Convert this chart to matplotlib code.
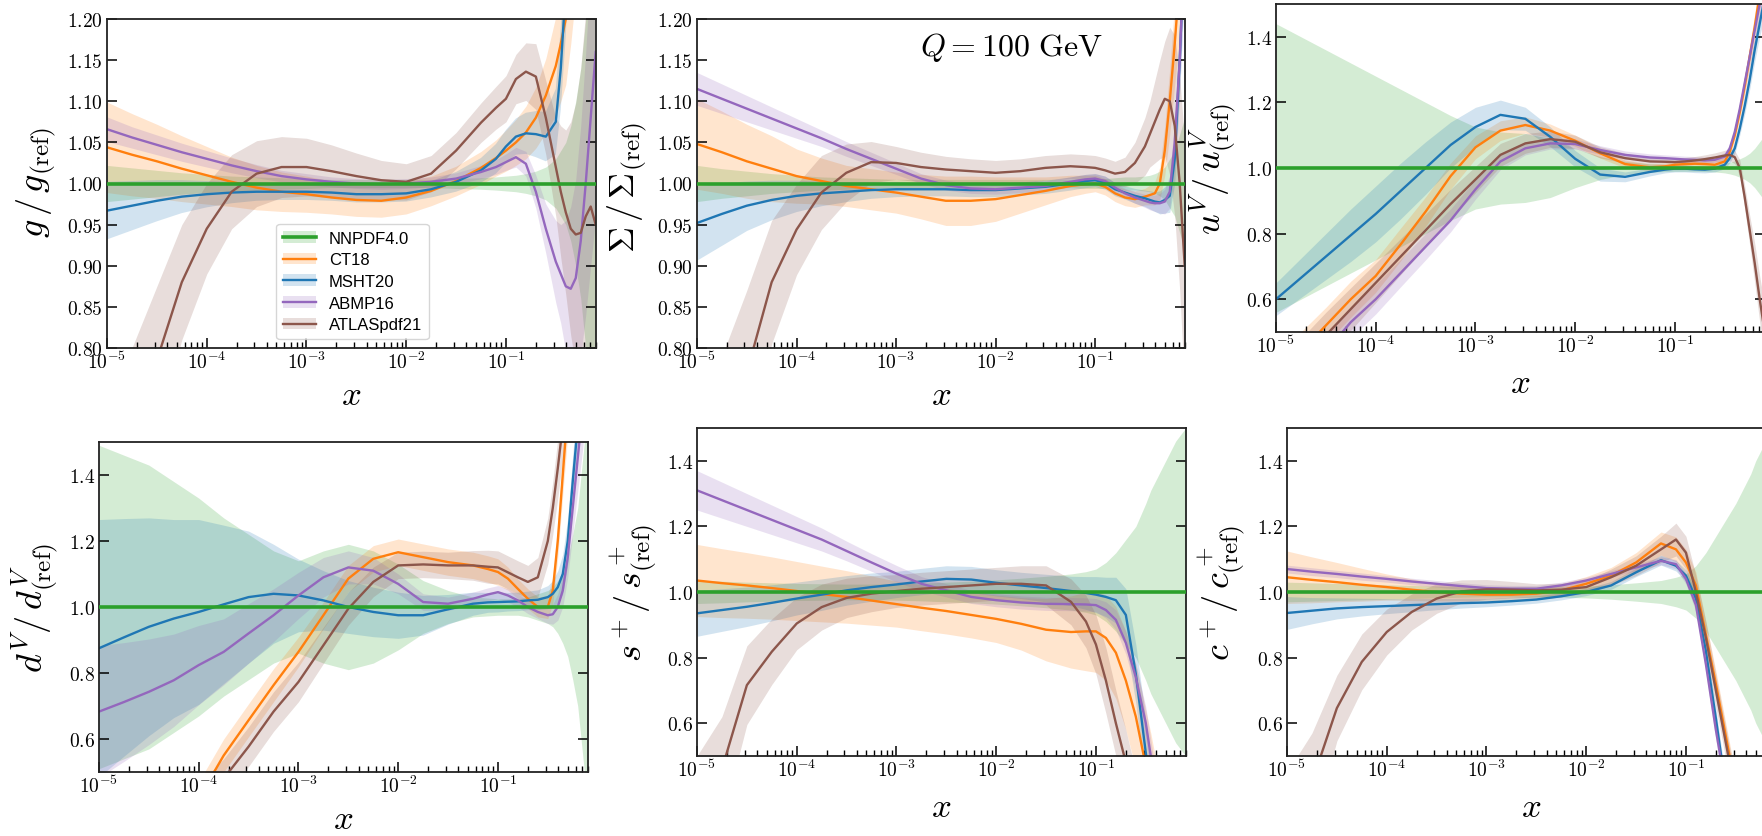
import numpy as np
import matplotlib
matplotlib.use("Agg")
import matplotlib.pyplot as plt
from matplotlib.ticker import FixedLocator, FixedFormatter, LogLocator, NullFormatter, NullLocator
from matplotlib.patches import Patch
from matplotlib.lines import Line2D

# ---------------- data ----------------
LOG10_X = [-5.0, -4.75, -4.5, -4.25, -4.0, -3.75, -3.5, -3.25, -3.0, -2.75, -2.5, -2.25,
           -2.0, -1.75, -1.5, -1.25, -1.1, -1.0, -0.9, -0.8, -0.7, -0.6, -0.5, -0.45,
           -0.4, -0.35, -0.3, -0.25, -0.2, -0.15, -0.1]

PDF_NAMES = ["NNPDF4.0", "CT18", "MSHT20", "ABMP16", "ATLASpdf21"]
NNPDF_RATIO = 1.0

# gluon
g_nnpdf_err = [0.022, 0.019, 0.016, 0.013, 0.011, 0.009, 0.008, 0.007, 0.006, 0.005, 0.005, 0.005, 0.005, 0.005, 0.006, 0.007, 0.008, 0.009, 0.010, 0.012, 0.015, 0.020, 0.030, 0.040, 0.050, 0.070, 0.100, 0.140, 0.200, 0.260, 0.320]
g_ct18 = [1.044, 1.035, 1.027, 1.018, 1.010, 1.002, 0.995, 0.990, 0.987, 0.983, 0.980, 0.979, 0.983, 0.991, 1.003, 1.019, 1.031, 1.040, 1.050, 1.062, 1.080, 1.107, 1.143, 1.170, 1.200, 1.260, 1.330, 1.420, 1.520, 1.640, 1.780]
g_ct18_err = [0.055, 0.050, 0.045, 0.040, 0.035, 0.030, 0.027, 0.024, 0.022, 0.020, 0.020, 0.020, 0.020, 0.018, 0.018, 0.020, 0.022, 0.025, 0.028, 0.032, 0.037, 0.045, 0.060, 0.070, 0.080, 0.090, 0.100, 0.120, 0.140, 0.160, 0.180]
g_msht = [0.967, 0.973, 0.979, 0.984, 0.987, 0.989, 0.990, 0.990, 0.990, 0.989, 0.987, 0.987, 0.988, 0.993, 1.002, 1.016, 1.030, 1.045, 1.057, 1.061, 1.060, 1.057, 1.075, 1.140, 1.240, 1.380, 1.500, 1.650, 1.800, 1.950, 2.100]
g_msht_err = [0.035, 0.030, 0.025, 0.020, 0.016, 0.013, 0.011, 0.010, 0.010, 0.010, 0.010, 0.010, 0.010, 0.010, 0.012, 0.015, 0.018, 0.020, 0.022, 0.025, 0.028, 0.030, 0.040, 0.050, 0.060, 0.080, 0.100, 0.120, 0.140, 0.160, 0.180]
g_abmp = [1.066, 1.056, 1.047, 1.038, 1.030, 1.022, 1.015, 1.009, 1.005, 1.002, 1.000, 0.999, 1.000, 1.002, 1.006, 1.014, 1.020, 1.026, 1.032, 1.024, 0.990, 0.945, 0.905, 0.890, 0.875, 0.872, 0.885, 0.930, 1.000, 1.080, 1.160]
g_abmp_err = [0.015, 0.013, 0.012, 0.011, 0.010, 0.009, 0.008, 0.007, 0.007, 0.006, 0.006, 0.006, 0.006, 0.006, 0.007, 0.008, 0.009, 0.010, 0.012, 0.015, 0.020, 0.030, 0.050, 0.060, 0.080, 0.100, 0.120, 0.140, 0.160, 0.180, 0.200]
g_atlas = [0.520, 0.660, 0.785, 0.880, 0.945, 0.990, 1.012, 1.020, 1.020, 1.015, 1.009, 1.004, 1.002, 1.012, 1.040, 1.074, 1.092, 1.103, 1.127, 1.136, 1.130, 1.080, 1.020, 0.990, 0.965, 0.945, 0.938, 0.940, 0.960, 0.972, 0.950]
g_atlas_err = [0.180, 0.140, 0.090, 0.070, 0.055, 0.045, 0.040, 0.037, 0.035, 0.032, 0.028, 0.024, 0.022, 0.022, 0.022, 0.024, 0.026, 0.028, 0.030, 0.035, 0.040, 0.045, 0.060, 0.080, 0.100, 0.130, 0.160, 0.200, 0.250, 0.300, 0.350]

# singlet
S_nnpdf_err = [0.022, 0.018, 0.015, 0.012, 0.010, 0.008, 0.007, 0.006, 0.005, 0.005, 0.005, 0.005, 0.005, 0.005, 0.005, 0.005, 0.006, 0.006, 0.006, 0.007, 0.008, 0.008, 0.009, 0.010, 0.012, 0.015, 0.020, 0.030, 0.040, 0.060, 0.080]
S_ct18 = [1.048, 1.038, 1.027, 1.018, 1.009, 1.003, 0.997, 0.993, 0.989, 0.984, 0.979, 0.979, 0.981, 0.986, 0.991, 0.997, 0.999, 1.000, 0.996, 0.988, 0.983, 0.981, 0.984, 0.986, 0.988, 1.000, 1.040, 1.100, 1.170, 1.250, 1.350]
S_ct18_err = [0.055, 0.050, 0.045, 0.040, 0.033, 0.028, 0.025, 0.025, 0.025, 0.027, 0.030, 0.030, 0.027, 0.022, 0.017, 0.013, 0.011, 0.010, 0.010, 0.010, 0.010, 0.010, 0.010, 0.012, 0.014, 0.020, 0.030, 0.040, 0.050, 0.070, 0.090]
S_msht = [0.952, 0.963, 0.973, 0.980, 0.985, 0.988, 0.990, 0.992, 0.993, 0.993, 0.993, 0.992, 0.992, 0.994, 0.996, 1.000, 1.003, 1.004, 1.001, 0.993, 0.989, 0.985, 0.982, 0.980, 0.978, 0.977, 0.980, 0.985, 1.030, 1.150, 1.300]
S_msht_err = [0.045, 0.038, 0.030, 0.024, 0.019, 0.015, 0.012, 0.010, 0.009, 0.008, 0.008, 0.008, 0.008, 0.008, 0.008, 0.008, 0.008, 0.008, 0.008, 0.008, 0.008, 0.009, 0.010, 0.011, 0.012, 0.014, 0.016, 0.020, 0.030, 0.040, 0.050]
S_abmp = [1.115, 1.103, 1.091, 1.079, 1.067, 1.055, 1.042, 1.030, 1.018, 1.006, 0.998, 0.994, 0.993, 0.995, 0.997, 1.002, 1.005, 1.006, 1.003, 0.995, 0.988, 0.983, 0.979, 0.977, 0.976, 0.976, 0.978, 0.990, 1.050, 1.150, 1.300]
S_abmp_err = [0.020, 0.018, 0.016, 0.014, 0.012, 0.010, 0.009, 0.008, 0.007, 0.006, 0.006, 0.006, 0.006, 0.006, 0.006, 0.006, 0.006, 0.006, 0.006, 0.006, 0.006, 0.007, 0.008, 0.009, 0.010, 0.012, 0.015, 0.020, 0.030, 0.040, 0.050]
S_atlas = [0.500, 0.640, 0.770, 0.880, 0.944, 0.989, 1.013, 1.026, 1.025, 1.020, 1.017, 1.015, 1.013, 1.015, 1.019, 1.021, 1.020, 1.019, 1.016, 1.012, 1.014, 1.025, 1.045, 1.060, 1.075, 1.090, 1.103, 1.100, 1.070, 1.000, 0.900]
S_atlas_err = [0.200, 0.150, 0.100, 0.075, 0.055, 0.045, 0.035, 0.025, 0.020, 0.018, 0.016, 0.015, 0.015, 0.015, 0.015, 0.015, 0.015, 0.015, 0.015, 0.015, 0.018, 0.025, 0.035, 0.040, 0.050, 0.060, 0.070, 0.090, 0.110, 0.130, 0.150]

# u valence
uv_nnpdf_err = [0.440, 0.400, 0.360, 0.320, 0.280, 0.240, 0.200, 0.160, 0.125, 0.110, 0.105, 0.090, 0.060, 0.035, 0.020, 0.013, 0.011, 0.010, 0.010, 0.010, 0.011, 0.012, 0.015, 0.018, 0.022, 0.028, 0.035, 0.045, 0.060, 0.080, 0.100]
uv_ct18 = [0.360, 0.440, 0.520, 0.600, 0.671, 0.767, 0.867, 0.975, 1.063, 1.114, 1.131, 1.114, 1.083, 1.045, 1.012, 1.002, 1.005, 1.010, 1.012, 1.013, 1.012, 1.010, 1.020, 1.050, 1.100, 1.170, 1.250, 1.340, 1.430, 1.530, 1.630]
uv_ct18_err = [0.060, 0.060, 0.055, 0.055, 0.050, 0.050, 0.045, 0.040, 0.035, 0.030, 0.025, 0.020, 0.017, 0.015, 0.012, 0.010, 0.010, 0.010, 0.010, 0.010, 0.010, 0.012, 0.015, 0.018, 0.020, 0.025, 0.030, 0.035, 0.040, 0.050, 0.060]
uv_msht = [0.600, 0.665, 0.730, 0.795, 0.860, 0.930, 1.000, 1.070, 1.125, 1.162, 1.150, 1.095, 1.028, 0.980, 0.973, 0.988, 0.995, 0.998, 0.998, 0.996, 0.995, 0.998, 1.010, 1.030, 1.060, 1.120, 1.190, 1.270, 1.360, 1.440, 1.520]
uv_msht_err = [0.050, 0.060, 0.070, 0.080, 0.085, 0.085, 0.080, 0.070, 0.060, 0.045, 0.035, 0.030, 0.025, 0.020, 0.015, 0.012, 0.010, 0.010, 0.010, 0.010, 0.010, 0.010, 0.012, 0.014, 0.016, 0.020, 0.025, 0.030, 0.035, 0.040, 0.050]
uv_abmp = [0.300, 0.370, 0.440, 0.530, 0.600, 0.680, 0.760, 0.840, 0.935, 1.020, 1.060, 1.075, 1.073, 1.055, 1.040, 1.032, 1.030, 1.028, 1.026, 1.025, 1.023, 1.025, 1.035, 1.060, 1.110, 1.180, 1.260, 1.340, 1.420, 1.500, 1.580]
uv_abmp_err = [0.050, 0.050, 0.050, 0.048, 0.045, 0.042, 0.040, 0.035, 0.030, 0.025, 0.020, 0.017, 0.015, 0.013, 0.012, 0.011, 0.010, 0.010, 0.010, 0.010, 0.010, 0.010, 0.012, 0.014, 0.016, 0.020, 0.025, 0.030, 0.035, 0.040, 0.050]
uv_atlas = [0.330, 0.410, 0.490, 0.570, 0.650, 0.730, 0.810, 0.890, 0.965, 1.040, 1.075, 1.088, 1.080, 1.048, 1.030, 1.020, 1.019, 1.018, 1.020, 1.023, 1.027, 1.032, 1.038, 1.040, 1.033, 1.000, 0.910, 0.810, 0.710, 0.600, 0.500]
uv_atlas_err = [0.070, 0.070, 0.070, 0.065, 0.060, 0.055, 0.050, 0.045, 0.040, 0.035, 0.030, 0.025, 0.020, 0.017, 0.015, 0.013, 0.012, 0.012, 0.012, 0.012, 0.013, 0.014, 0.016, 0.018, 0.020, 0.025, 0.035, 0.045, 0.060, 0.070, 0.080]

# d valence
dv_nnpdf_err = [0.490, 0.460, 0.430, 0.380, 0.330, 0.270, 0.220, 0.170, 0.140, 0.170, 0.190, 0.170, 0.130, 0.080, 0.050, 0.030, 0.027, 0.025, 0.025, 0.025, 0.030, 0.040, 0.050, 0.060, 0.080, 0.110, 0.150, 0.220, 0.300, 0.450, 0.600]
dv_ct18 = [0.140, 0.200, 0.260, 0.340, 0.420, 0.550, 0.657, 0.763, 0.864, 0.975, 1.086, 1.146, 1.166, 1.151, 1.136, 1.126, 1.115, 1.106, 1.086, 1.055, 1.025, 1.000, 1.000, 1.050, 1.200, 1.400, 1.600, 1.800, 2.000, 2.200, 2.400]
dv_ct18_err = [0.050, 0.050, 0.050, 0.050, 0.050, 0.050, 0.050, 0.050, 0.045, 0.040, 0.040, 0.040, 0.040, 0.040, 0.040, 0.040, 0.040, 0.040, 0.035, 0.030, 0.030, 0.030, 0.035, 0.040, 0.050, 0.060, 0.080, 0.100, 0.120, 0.140, 0.160]
dv_msht = [0.875, 0.908, 0.940, 0.965, 0.985, 1.008, 1.030, 1.040, 1.035, 1.020, 1.000, 0.985, 0.975, 0.975, 0.993, 1.010, 1.014, 1.015, 1.016, 1.017, 1.020, 1.022, 1.030, 1.040, 1.060, 1.100, 1.200, 1.380, 1.550, 1.700, 1.850]
dv_msht_err = [0.390, 0.360, 0.330, 0.300, 0.280, 0.240, 0.200, 0.150, 0.110, 0.090, 0.080, 0.075, 0.070, 0.060, 0.045, 0.035, 0.030, 0.030, 0.028, 0.028, 0.028, 0.030, 0.035, 0.040, 0.050, 0.060, 0.070, 0.080, 0.100, 0.120, 0.140]
dv_abmp = [0.683, 0.712, 0.743, 0.778, 0.824, 0.864, 0.920, 0.975, 1.035, 1.090, 1.120, 1.110, 1.070, 1.015, 1.010, 1.025, 1.038, 1.045, 1.035, 1.020, 1.000, 0.985, 0.975, 0.978, 1.000, 1.050, 1.150, 1.300, 1.450, 1.600, 1.800]
dv_abmp_err = [0.200, 0.180, 0.160, 0.140, 0.120, 0.100, 0.090, 0.080, 0.070, 0.060, 0.050, 0.040, 0.030, 0.025, 0.020, 0.020, 0.020, 0.020, 0.020, 0.020, 0.020, 0.020, 0.025, 0.030, 0.040, 0.050, 0.060, 0.080, 0.100, 0.120, 0.140]
dv_atlas = [0.100, 0.170, 0.240, 0.320, 0.400, 0.480, 0.577, 0.683, 0.773, 0.884, 0.995, 1.076, 1.126, 1.129, 1.126, 1.126, 1.122, 1.120, 1.105, 1.090, 1.076, 1.090, 1.200, 1.300, 1.420, 1.550, 1.700, 1.850, 2.000, 2.150, 2.300]
dv_atlas_err = [0.060, 0.060, 0.060, 0.060, 0.060, 0.060, 0.060, 0.060, 0.060, 0.055, 0.050, 0.045, 0.040, 0.040, 0.040, 0.045, 0.050, 0.050, 0.050, 0.050, 0.050, 0.060, 0.070, 0.080, 0.090, 0.100, 0.120, 0.140, 0.160, 0.180, 0.200]

# total strangeness
sp_nnpdf_err = [0.035, 0.033, 0.030, 0.028, 0.026, 0.025, 0.024, 0.024, 0.025, 0.027, 0.030, 0.033, 0.037, 0.042, 0.048, 0.055, 0.062, 0.070, 0.090, 0.120, 0.160, 0.200, 0.270, 0.310, 0.340, 0.370, 0.400, 0.430, 0.460, 0.480, 0.500]
sp_ct18 = [1.035, 1.027, 1.020, 1.012, 1.003, 0.994, 0.985, 0.974, 0.963, 0.952, 0.942, 0.930, 0.918, 0.903, 0.885, 0.878, 0.880, 0.880, 0.860, 0.815, 0.730, 0.620, 0.470, 0.400, 0.320, 0.240, 0.160, 0.080, 0.000, -0.080, -0.160]
sp_ct18_err = [0.110, 0.105, 0.100, 0.095, 0.090, 0.085, 0.080, 0.075, 0.070, 0.070, 0.070, 0.070, 0.072, 0.080, 0.095, 0.110, 0.120, 0.125, 0.130, 0.140, 0.150, 0.160, 0.170, 0.170, 0.170, 0.170, 0.170, 0.170, 0.170, 0.170, 0.170]
sp_msht = [0.935, 0.945, 0.955, 0.967, 0.980, 0.992, 1.005, 1.015, 1.023, 1.032, 1.040, 1.038, 1.028, 1.020, 1.012, 1.003, 0.997, 0.992, 0.985, 0.975, 0.930, 0.750, 0.510, 0.400, 0.300, 0.200, 0.100, 0.000, -0.100, -0.200, -0.300]
sp_msht_err = [0.070, 0.065, 0.060, 0.055, 0.050, 0.048, 0.045, 0.043, 0.040, 0.040, 0.040, 0.040, 0.040, 0.040, 0.042, 0.045, 0.050, 0.055, 0.060, 0.070, 0.080, 0.090, 0.100, 0.100, 0.100, 0.100, 0.100, 0.100, 0.100, 0.100, 0.100]
sp_abmp = [1.310, 1.280, 1.250, 1.220, 1.190, 1.160, 1.125, 1.090, 1.056, 1.025, 1.005, 0.985, 0.975, 0.968, 0.964, 0.963, 0.962, 0.960, 0.945, 0.915, 0.845, 0.740, 0.600, 0.500, 0.400, 0.300, 0.200, 0.100, 0.000, -0.100, -0.200]
sp_abmp_err = [0.060, 0.055, 0.050, 0.045, 0.040, 0.035, 0.030, 0.027, 0.025, 0.022, 0.020, 0.020, 0.020, 0.020, 0.020, 0.020, 0.020, 0.020, 0.025, 0.030, 0.035, 0.040, 0.050, 0.050, 0.050, 0.050, 0.050, 0.050, 0.050, 0.050, 0.050]
sp_atlas = [0.300, 0.460, 0.716, 0.818, 0.904, 0.954, 0.982, 0.995, 1.003, 1.010, 1.015, 1.020, 1.025, 1.025, 1.020, 0.970, 0.910, 0.840, 0.730, 0.600, 0.480, 0.350, 0.200, 0.120, 0.050, -0.050, -0.100, -0.200, -0.300, -0.400, -0.500]
sp_atlas_err = [0.200, 0.160, 0.120, 0.100, 0.080, 0.070, 0.060, 0.055, 0.050, 0.050, 0.050, 0.050, 0.050, 0.055, 0.060, 0.070, 0.080, 0.090, 0.100, 0.100, 0.100, 0.100, 0.100, 0.100, 0.100, 0.100, 0.100, 0.100, 0.100, 0.100, 0.100]

# total charm
cp_nnpdf_err = [0.030, 0.028, 0.026, 0.024, 0.022, 0.020, 0.018, 0.016, 0.015, 0.015, 0.015, 0.016, 0.018, 0.022, 0.028, 0.035, 0.045, 0.055, 0.080, 0.120, 0.170, 0.220, 0.270, 0.300, 0.330, 0.360, 0.400, 0.430, 0.460, 0.490, 0.520]
cp_ct18 = [1.045, 1.037, 1.030, 1.022, 1.015, 1.007, 1.000, 0.995, 0.992, 0.992, 0.995, 1.005, 1.025, 1.050, 1.090, 1.148, 1.130, 1.090, 1.020, 0.870, 0.720, 0.560, 0.400, 0.320, 0.250, 0.150, 0.050, -0.050, -0.150, -0.250, -0.350]
cp_ct18_err = [0.080, 0.070, 0.060, 0.050, 0.040, 0.033, 0.027, 0.022, 0.020, 0.018, 0.018, 0.020, 0.022, 0.025, 0.030, 0.035, 0.038, 0.040, 0.040, 0.040, 0.040, 0.040, 0.040, 0.040, 0.040, 0.040, 0.040, 0.040, 0.040, 0.040, 0.040]
cp_msht = [0.936, 0.943, 0.950, 0.954, 0.957, 0.960, 0.963, 0.966, 0.968, 0.972, 0.977, 0.987, 1.000, 1.020, 1.060, 1.097, 1.080, 1.050, 0.980, 0.820, 0.615, 0.400, 0.200, 0.100, 0.000, -0.100, -0.200, -0.300, -0.400, -0.500, -0.600]
cp_msht_err = [0.050, 0.040, 0.032, 0.027, 0.023, 0.020, 0.017, 0.015, 0.013, 0.012, 0.011, 0.011, 0.011, 0.012, 0.013, 0.015, 0.016, 0.018, 0.020, 0.025, 0.030, 0.030, 0.030, 0.030, 0.030, 0.030, 0.030, 0.030, 0.030, 0.030, 0.030]
cp_abmp = [1.070, 1.062, 1.055, 1.047, 1.040, 1.032, 1.025, 1.018, 1.012, 1.010, 1.010, 1.020, 1.035, 1.055, 1.075, 1.095, 1.085, 1.040, 0.960, 0.780, 0.580, 0.400, 0.200, 0.100, 0.000, -0.100, -0.200, -0.300, -0.400, -0.500, -0.600]
cp_abmp_err = [0.012, 0.012, 0.011, 0.011, 0.010, 0.010, 0.010, 0.010, 0.010, 0.010, 0.010, 0.010, 0.010, 0.010, 0.010, 0.012, 0.014, 0.016, 0.020, 0.025, 0.030, 0.030, 0.030, 0.030, 0.030, 0.030, 0.030, 0.030, 0.030, 0.030, 0.030]
cp_atlas = [0.250, 0.420, 0.646, 0.787, 0.878, 0.939, 0.980, 1.002, 1.008, 1.007, 1.005, 1.007, 1.015, 1.045, 1.080, 1.130, 1.160, 1.120, 1.000, 0.860, 0.700, 0.540, 0.380, 0.300, 0.220, 0.120, 0.020, -0.080, -0.180, -0.280, -0.380]
cp_atlas_err = [0.200, 0.150, 0.100, 0.085, 0.070, 0.055, 0.045, 0.035, 0.030, 0.025, 0.020, 0.020, 0.020, 0.025, 0.030, 0.040, 0.050, 0.050, 0.050, 0.050, 0.050, 0.050, 0.050, 0.050, 0.050, 0.050, 0.050, 0.050, 0.050, 0.050, 0.050]

YTICKS_FINE = [0.80, 0.85, 0.90, 0.95, 1.00, 1.05, 1.10, 1.15, 1.20]
YTICKS_WIDE = [0.6, 0.8, 1.0, 1.2, 1.4]
XTICKS = [1e-5, 1e-4, 1e-3, 1e-2, 1e-1]
XTICK_LABELS = [r"$10^{-5}$", r"$10^{-4}$", r"$10^{-3}$", r"$10^{-2}$", r"$10^{-1}$"]
SCALE_TEXT = r"$Q = 100\ \mathrm{GeV}$"

# ---------------- style ----------------
plt.rcParams["mathtext.fontset"] = "cm"
plt.rcParams["font.family"] = ["DejaVu Serif"]

COLORS = ["#2ca02c", "#ff7f0e", "#1f77b4", "#9467bd", "#8c564b"]
W, H = 1762, 837
fig = plt.figure(figsize=(W / 100, H / 100), dpi=100)


def px_axes(left, top, right, bottom):
    return fig.add_axes([left / W, 1 - bottom / H, (right - left) / W, (bottom - top) / H])


x = 10.0 ** np.array(LOG10_X)

panels = [
    dict(box=(107, 20, 596, 349), ylabel=r"$g\,/\,g_{(\rm ref)}$", ylim=(0.80, 1.20),
         yticks=YTICKS_FINE, fmt="%.2f", lab=(-0.100, 0.505), xlab_off=46,
         data=[(g_nnpdf_err,), (g_ct18, g_ct18_err), (g_msht, g_msht_err), (g_abmp, g_abmp_err), (g_atlas, g_atlas_err)]),
    dict(box=(697, 20, 1185, 349), ylabel=r"$\Sigma\,/\,\Sigma_{(\rm ref)}$", ylim=(0.80, 1.20),
         yticks=YTICKS_FINE, fmt="%.2f", lab=(-0.098, 0.49), xlab_off=46,
         data=[(S_nnpdf_err,), (S_ct18, S_ct18_err), (S_msht, S_msht_err), (S_abmp, S_abmp_err), (S_atlas, S_atlas_err)]),
    dict(box=(1276, 5, 1765, 333), ylabel=r"$u^V/\,u^V_{(\rm ref)}$", ylim=(0.5, 1.5),
         yticks=YTICKS_WIDE, fmt="%.1f", lab=(-0.076, 0.5), xlab_off=50,
         data=[(uv_nnpdf_err,), (uv_ct18, uv_ct18_err), (uv_msht, uv_msht_err), (uv_abmp, uv_abmp_err), (uv_atlas, uv_atlas_err)]),
    dict(box=(99, 443, 588, 773), ylabel=r"$d^V/\,d^V_{(\rm ref)}$", ylim=(0.5, 1.5),
         yticks=YTICKS_WIDE, fmt="%.1f", lab=(-0.078, 0.5), xlab_off=46,
         data=[(dv_nnpdf_err,), (dv_ct18, dv_ct18_err), (dv_msht, dv_msht_err), (dv_abmp, dv_abmp_err), (dv_atlas, dv_atlas_err)]),
    dict(box=(697, 429, 1186, 757), ylabel=r"$s^+/\,s^+_{(\rm ref)}$", ylim=(0.5, 1.5),
         yticks=YTICKS_WIDE, fmt="%.1f", lab=(-0.076, 0.5), xlab_off=50,
         data=[(sp_nnpdf_err,), (sp_ct18, sp_ct18_err), (sp_msht, sp_msht_err), (sp_abmp, sp_abmp_err), (sp_atlas, sp_atlas_err)]),
    dict(box=(1287, 429, 1776, 757), ylabel=r"$c^+/\,c^+_{(\rm ref)}$", ylim=(0.5, 1.5),
         yticks=YTICKS_WIDE, fmt="%.1f", lab=(-0.080, 0.5), xlab_off=50,
         data=[(cp_nnpdf_err,), (cp_ct18, cp_ct18_err), (cp_msht, cp_msht_err), (cp_abmp, cp_abmp_err), (cp_atlas, cp_atlas_err)]),
]

axes = []
for p in panels:
    ax = px_axes(*p["box"])
    axes.append(ax)
    ax.set_xscale("log")
    ax.set_xlim(1e-5, 0.8)
    ax.set_ylim(*p["ylim"])
    centrals = []
    for i, d in enumerate(p["data"]):
        if i == 0:
            c = np.full_like(x, NNPDF_RATIO)
            e = np.array(d[0])
        else:
            c = np.array(d[0])
            e = np.array(d[1])
        centrals.append(c)
        ax.fill_between(x, c - e, c + e, color=COLORS[i], alpha=0.2, linewidth=0, zorder=1)
    for i, c in enumerate(centrals):
        ax.plot(x, c, color=COLORS[i], lw=2.6 if i == 0 else 1.7, zorder=3 if i == 0 else 2)

    # ticks
    ax.xaxis.set_major_locator(FixedLocator(XTICKS))
    ax.xaxis.set_major_formatter(FixedFormatter(XTICK_LABELS))
    ax.xaxis.set_minor_locator(LogLocator(base=10, subs=np.arange(2, 10), numticks=20))
    ax.xaxis.set_minor_formatter(NullFormatter())
    ax.yaxis.set_major_locator(FixedLocator(p["yticks"]))
    ax.yaxis.set_major_formatter(FixedFormatter([r"$" + (p["fmt"] % v) + r"$" for v in p["yticks"]]))
    ax.yaxis.set_minor_locator(NullLocator())
    ax.tick_params(axis="both", which="major", direction="in", length=7, width=1.1,
                   labelsize=14, right=True, top=False, pad=3)
    ax.tick_params(axis="x", which="minor", direction="in", length=4, width=1.0, top=False)
    ax.tick_params(axis="x", which="major", pad=2)
    for s in ax.spines.values():
        s.set_linewidth(1.3)
        s.set_color("#222222")

    ax.set_ylabel(p["ylabel"], fontsize=26)
    ax.yaxis.set_label_coords(*p["lab"])
    ax.set_xlabel(r"$x$", fontsize=25)
    hpx = p["box"][3] - p["box"][1]
    ax.xaxis.label.set_va("center")
    ax.xaxis.set_label_coords(0.5, -p["xlab_off"] / hpx)

# legend in first panel
handles = []
for i, name in enumerate(PDF_NAMES):
    handles.append((Patch(facecolor=COLORS[i], alpha=0.2, edgecolor="none"),
                    Line2D([], [], color=COLORS[i], lw=2.6 if i == 0 else 1.7)))
axes[0].legend(handles, PDF_NAMES, loc="lower left", bbox_to_anchor=(0.346, 0.027),
               borderaxespad=0, prop=dict(family="Liberation Sans", size=12),
               handlelength=2.0, handletextpad=0.75, labelspacing=0.4, framealpha=0.8)

axes[1].text(0.457, 0.915, SCALE_TEXT, transform=axes[1].transAxes, fontsize=23,
             ha="left", va="center")

fig.savefig("out.png", dpi=100)
